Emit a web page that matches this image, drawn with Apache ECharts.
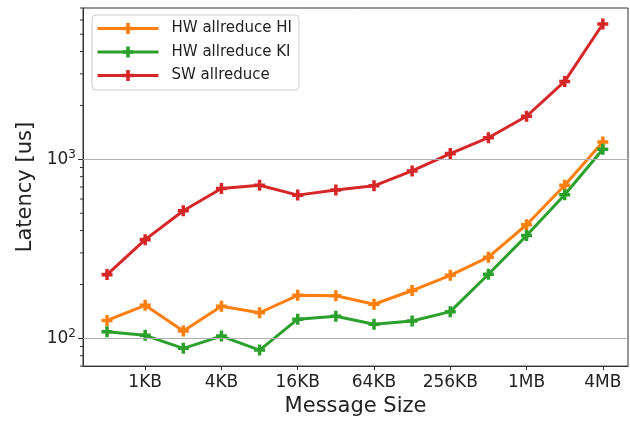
<!DOCTYPE html>
<html>
<head>
<meta charset="utf-8">
<script src="https://cdn.jsdelivr.net/npm/echarts@6/dist/echarts.min.js"></script>
<style>html,body{margin:0;padding:0;background:#fff;}#c{width:630px;height:422px;}</style>
</head>
<body>
<div id="c"></div>
<script>
const sizes = ['512B','1KB','2KB','4KB','8KB','16KB','32KB','64KB','128KB','256KB','512KB','1MB','2MB','4MB'];
const hwHI = [126,153,110,151,139,174,173,155,185,225,284,431,717,1248];
const hwKI = [109,104,88,103,86,128,133,120,125,141,228,375,634,1137];
const swAll = [227,356,516,687,717,631,673,711,861,1076,1320,1740,2723,5700];
const xTickLabels = ['1KB','4KB','16KB','64KB','256KB','1MB','4MB'];
const yGridValues = [100,1000];
const yMinorTicks = [70,80,90,200,300,400,500,600,700,800,900,2000,3000,4000,5000,6000,7000];

const X_MIN = -0.63, X_MAX = 13.66;
const xTickPos = xTickLabels.map(l => sizes.indexOf(l));
const plus = 'path://M3.4,0H6.6V3.4H10V6.6H6.6V10H3.4V6.6H0V3.4H3.4Z';
const FONT = 'DejaVu Sans';

function mkSeries(name, vals, color, extra) {
  return Object.assign({
    name: name, type: 'line',
    data: vals.map((v, i) => [i, v]),
    symbol: plus, symbolSize: 11,
    lineStyle: { width: 3, color: color },
    itemStyle: { color: color },
    z: 3
  }, extra || {});
}

const chart = echarts.init(document.getElementById('c'), null, { renderer: 'canvas' });
chart.setOption({
  animation: false,
  textStyle: { fontFamily: FONT },
  grid: { left: 83, right: 2, top: 8, bottom: 54, show: true, borderColor: '#333', borderWidth: 1, backgroundColor: 'transparent' },
  legend: {
    data: ['HW allreduce HI', 'HW allreduce KI', 'SW allreduce'],
    orient: 'vertical', left: 92, top: 15,
    padding: [6, 7, 7, 4], itemGap: 8.5, itemWidth: 61, itemHeight: 14,
    lineStyle: { width: 3 },
    backgroundColor: 'rgba(255,255,255,0.85)', borderColor: '#ccc', borderWidth: 1, borderRadius: 4,
    textStyle: { fontFamily: FONT, fontSize: 15, color: '#222', padding: [0, 0, 0, 8] }
  },
  xAxis: {
    type: 'value', min: X_MIN, max: X_MAX,
    name: 'Message Size', nameLocation: 'middle', nameGap: 28,
    nameTextStyle: { fontFamily: FONT, fontSize: 21, color: '#222' },
    axisLine: { show: true, onZero: false, lineStyle: { color: '#333', width: 1 } },
    axisTick: { show: true, length: 4, customValues: xTickPos, lineStyle: { color: '#333' } },
    axisLabel: { customValues: xTickPos, margin: 8, fontFamily: FONT, fontSize: 17, color: '#222',
      formatter: v => sizes[Math.round(v)] },
    splitLine: { show: false }
  },
  yAxis: {
    type: 'log', logBase: 10, min: 70, max: 7000,
    name: 'Latency [us]', nameLocation: 'middle', nameGap: 47,
    nameTextStyle: { fontFamily: FONT, fontSize: 21, color: '#222' },
    axisLine: { show: true, onZero: false, lineStyle: { color: '#333', width: 1 } },
    axisTick: { show: true, length: 5, lineStyle: { color: '#333' } },
    axisLabel: {
      showMinLabel: false, showMaxLabel: false, margin: 7,
      formatter: v => {
        const e = Math.round(Math.log10(v));
        if (Math.abs(Math.pow(10, e) - v) > 1e-6 * v) return '';
        return '{b|10}{s|' + e + '}';
      },
      rich: {
        b: { fontFamily: FONT, fontSize: 17, color: '#222' },
        s: { fontFamily: FONT, fontSize: 12, color: '#222', verticalAlign: 'top', padding: [0, 0, 9, 0] }
      }
    },
    splitLine: { show: false }
  },
  series: [
    mkSeries('HW allreduce HI', hwHI, '#ff7f0e', {
      markLine: {
        silent: true, symbol: 'none', label: { show: false },
        lineStyle: { color: '#b0b0b0', width: 1, type: 'solid' },
        data: yGridValues.map(v => ({ yAxis: v }))
      }
    }),
    mkSeries('HW allreduce KI', hwKI, '#2ca02c'),
    mkSeries('SW allreduce', swAll, '#d62728'),
    {
      name: 'minor', type: 'custom', silent: true, clip: false,
      data: yMinorTicks.map(v => [X_MIN, v]),
      renderItem: (params, api) => {
        const p = api.coord([api.value(0), api.value(1)]);
        return { type: 'line', shape: { x1: p[0] - 3, y1: p[1], x2: p[0], y2: p[1] }, style: { stroke: '#333', lineWidth: 1 } };
      }
    }
  ]
});
</script>
</body>
</html>
